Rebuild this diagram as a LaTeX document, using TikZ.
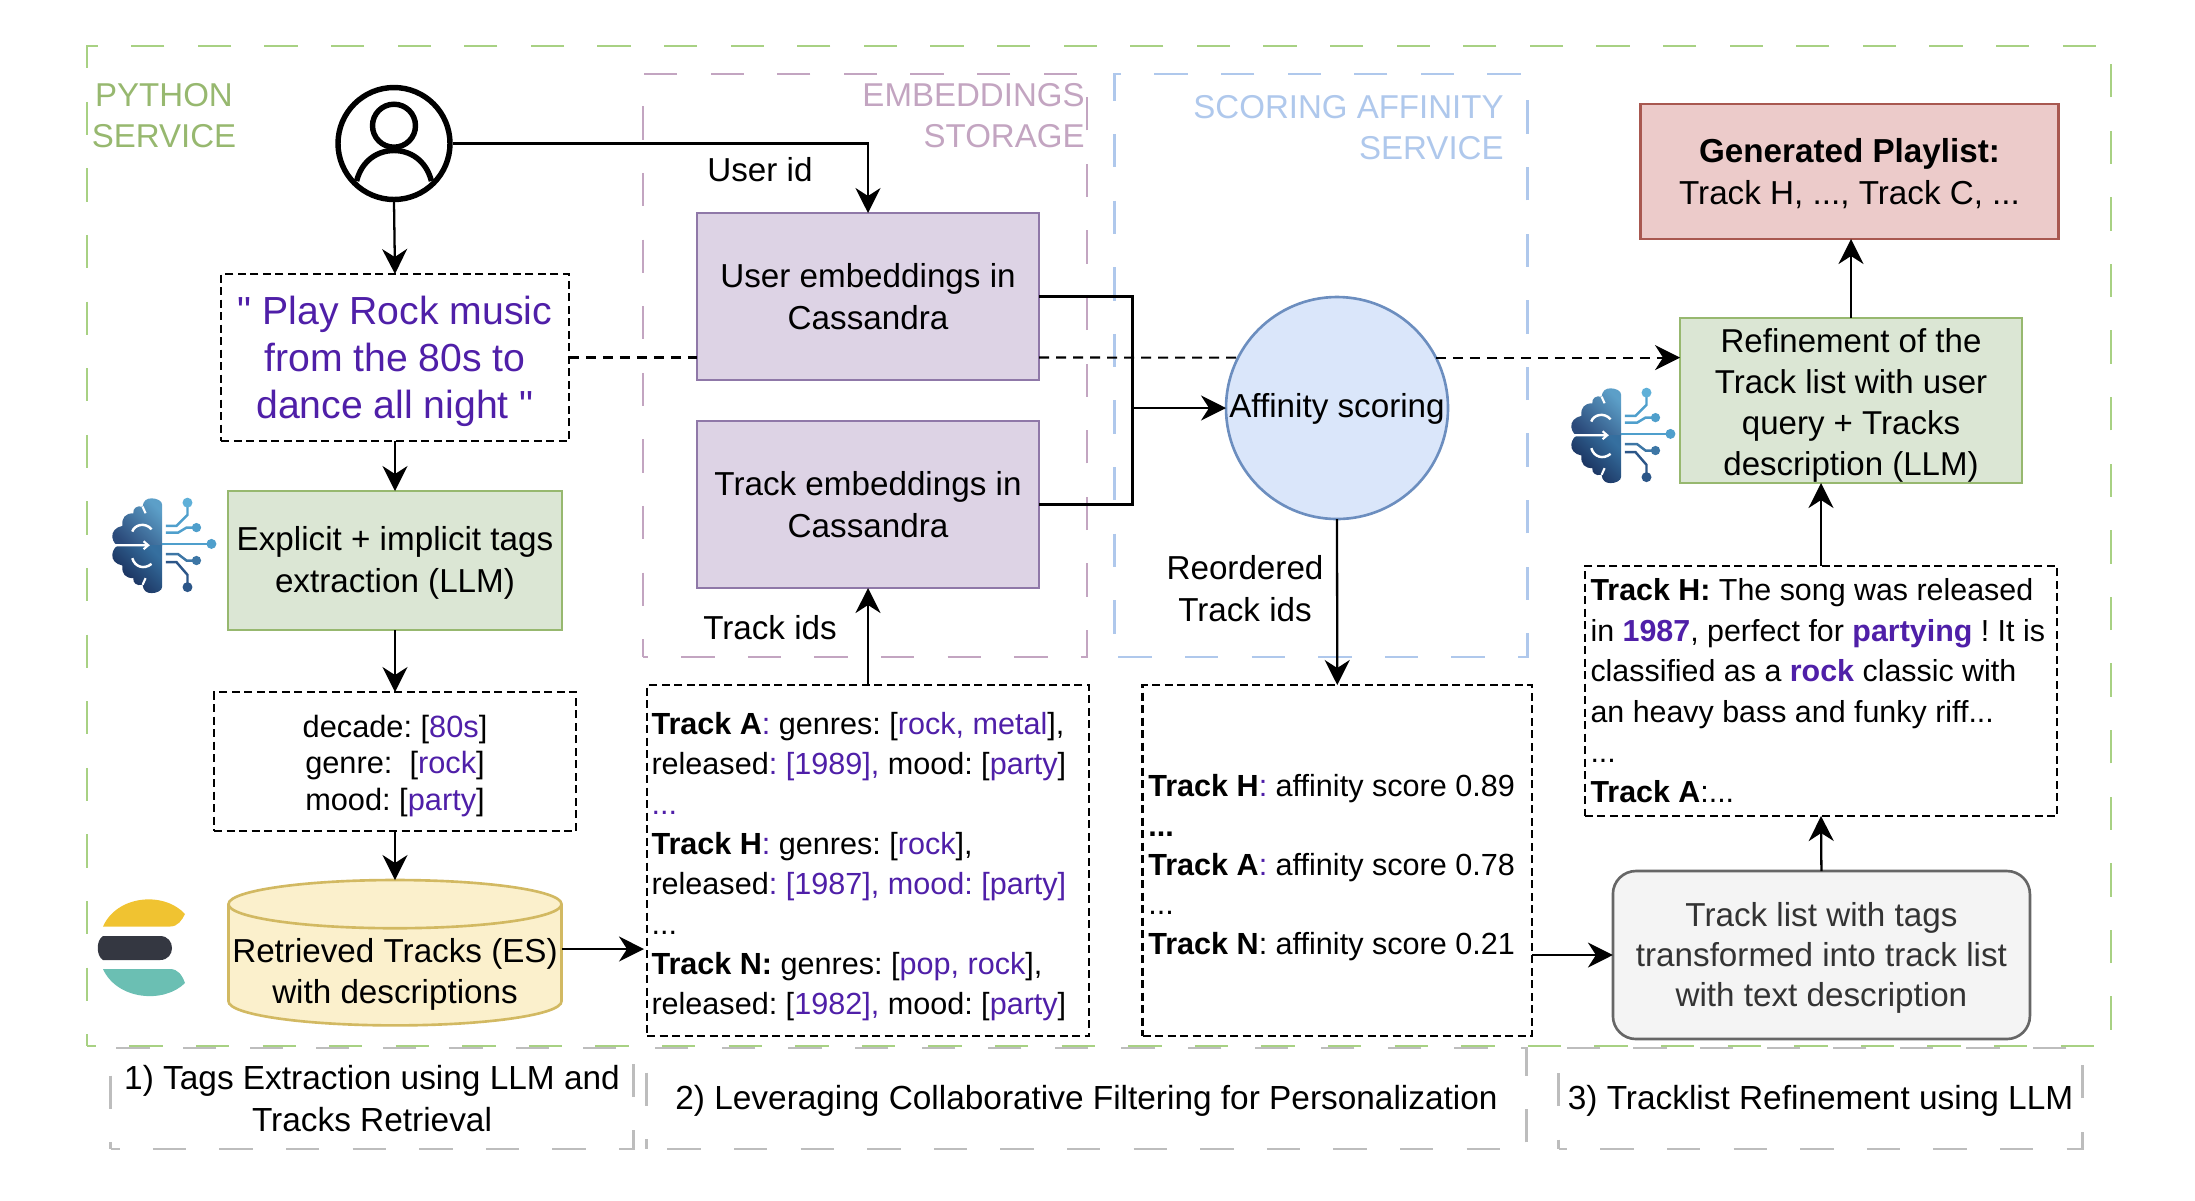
\documentclass[tikz,border=0pt]{standalone}
\usepackage{fontspec}
\setmainfont{Liberation Sans}
\newfontfamily\queryfont{Liberation Sans}
\usetikzlibrary{positioning,arrows.meta,shapes.geometric}

\definecolor{framegreen}{HTML}{A8D183}
\definecolor{labelgreen}{HTML}{97B86F}
\definecolor{framepurple}{HTML}{C3A5C1}
\definecolor{frameblue}{HTML}{AFC8EC}
\definecolor{framegrey}{HTML}{BDBDBD}
\definecolor{tagpurple}{HTML}{4F1FA8}
\definecolor{greenfill}{HTML}{DBE6D4}
\definecolor{purplefill}{HTML}{DDD3E5}
\definecolor{purpleline}{HTML}{8F78A8}
\definecolor{redfill}{HTML}{ECCBCA}
\definecolor{redline}{HTML}{A85850}
\definecolor{bluefill}{HTML}{DAE6FA}
\definecolor{blueline}{HTML}{6C8EBF}
\definecolor{yellowfill}{HTML}{FBF0CC}
\definecolor{yellowline}{HTML}{D2B962}
\definecolor{greyfill}{HTML}{F4F4F4}
\definecolor{greyline}{HTML}{666666}
\definecolor{greytext}{HTML}{333333}
\definecolor{brainlight}{HTML}{5C9FC8}
\definecolor{brainmid}{HTML}{2B4A7A}
\definecolor{braindark}{HTML}{14224E}
\definecolor{brainlow}{HTML}{356F9F}
\definecolor{wireone}{HTML}{5FB0D8}
\definecolor{wiretwo}{HTML}{4F9FCC}
\definecolor{wirethree}{HTML}{3D76A5}
\definecolor{wirefour}{HTML}{2C5688}
\definecolor{esyellow}{HTML}{F0C331}
\definecolor{esdark}{HTML}{343741}
\definecolor{esteal}{HTML}{6BBFB3}
\newcommand{\tagval}[1]{\textcolor{tagpurple}{#1}}

\tikzset{
	bodytext/.style={font=\fontsize{9.45}{11.9}\selectfont, align=center},
	frametext/.style={font=\fontsize{9.4}{11.7}\selectfont},
	conn/.style={-{Stealth[length=2.5mm,width=2.5mm,inset=0.8mm]}, line width=0.65pt},
	plainline/.style={line width=0.65pt},
	dashconn/.style={line width=0.6pt, dash pattern=on 0.1cm off 0.07cm},
	groupframe/.style={draw=#1, line width=0.6pt, dash pattern=on 0.333cm off 0.333cm, inner sep=0pt, outer sep=0pt},
	dashbox/.style={draw, line width=0.65pt, dash pattern=on 0.08cm off 0.045cm, inner sep=0pt, outer sep=0pt},
	solidbox/.style 2 args={draw=#1, fill=#2, line width=0.75pt, inner sep=0pt, outer sep=0pt, bodytext},
	listtext/.style={font=\fontsize{8.7}{11.35}\selectfont, align=flush left},
	textdrop/.style={execute at begin node={\rule{0pt}{#1}}},
	brainicon/.pic={
		\begin{scope}[x=0.00333cm, y=-0.00333cm]
			\shade[left color=brainmid, right color=brainlight, shading angle=135]
			(172,168) -- (172,45) .. controls (172,32) and (155,25) .. (140,25)
			.. controls (125,25) and (115,32) .. (113,50) .. controls (95,46) and (84,55) .. (85,70)
			.. controls (62,70) and (50,82) .. (52,108) .. controls (32,112) and (20,125) .. (22,142)
			.. controls (24,155) and (32,168) .. (45,168) -- cycle;
			\shade[left color=braindark, right color=brainlow, shading angle=135]
			(172,166) -- (172,290) .. controls (172,303) and (155,310) .. (140,310)
			.. controls (125,310) and (115,303) .. (113,285) .. controls (95,289) and (84,280) .. (85,265)
			.. controls (62,265) and (50,253) .. (52,227) .. controls (32,223) and (20,210) .. (22,193)
			.. controls (24,180) and (32,166) .. (45,166) -- cycle;
			\draw[white, line width=0.6pt] (15,166) -- (128,166) (116,154) -- (130,166) -- (116,178);
			\draw[white, line width=0.7pt] (82,125) .. controls (88,105) and (120,95) .. (140,118);
			\draw[white, line width=0.7pt] (82,205) .. controls (90,232) and (118,240) .. (140,222);
			\draw[white, line width=0.6pt] (113,50) -- (122,70) (113,285) -- (122,265);
			\draw[wiretwo, line width=0.7pt] (183,108) -- (215,108) -- (248,75) -- (248,38);
			\fill[wireone] (248,38) circle (15);
			\draw[wiretwo, line width=0.7pt] (183,128) -- (220,128) -- (245,113) -- (275,113);
			\fill[wiretwo] (275,113) circle (14);
			\draw[wiretwo, line width=0.7pt] (172,162) -- (320,162);
			\fill[wiretwo] (320,162) circle (15);
			\draw[wirethree, line width=0.7pt] (183,193) -- (220,193) -- (245,212) -- (275,212);
			\fill[wirethree] (275,212) circle (14);
			\draw[wirefour, line width=0.7pt] (183,217) -- (215,217) -- (248,255) -- (248,292);
			\fill[wirefour] (248,292) circle (15);
		\end{scope}
	}
}

\begin{document}
\frenchspacing
\begin{tikzpicture}
	\useasboundingbox (0,0) rectangle (21.95,-12);
	
	% group frames
	\node[groupframe=framegreen, dash phase=0.243cm, minimum width=20.24cm, minimum height=10cm](python_frame) at (10.99,-5.46){};
	\node[groupframe=framepurple, dash phase=0.284cm, minimum width=4.44cm, minimum height=5.83cm](embed_frame) at (8.65,-3.655){};
	\node[groupframe=frameblue, dash phase=0.627cm, minimum width=4.13cm, minimum height=5.83cm](score_frame) at (13.21,-3.655){};
	\node[groupframe=framegrey, dash phase=0.243cm, minimum width=5.23cm, minimum height=1.01cm, bodytext, font=\fontsize{9.5}{11.9}\selectfont](cap_one) at (3.72,-10.985){1) Tags Extraction using LLM and\\Tracks Retrieval};
	\node[groupframe=framegrey, dash phase=0.457cm, minimum width=8.8cm, minimum height=1.01cm, bodytext, font=\fontsize{9.5}{11.9}\selectfont, textdrop=8.4pt, right=0.13cm of cap_one](cap_two){2) Leveraging Collaborative Filtering for Personalization};
	\node[groupframe=framegrey, dash phase=0.247cm, minimum width=5.24cm, minimum height=1.01cm, bodytext, font=\fontsize{9.5}{11.9}\selectfont, textdrop=8.4pt, right=0.32cm of cap_two](cap_three){3) Tracklist Refinement using LLM};
	
	\node[frametext, text=labelgreen, align=center](python_label) at (1.64,-1.16){PYTHON\\SERVICE};
	\node[frametext, text=framepurple, align=right, anchor=east](embed_label) at (10.97,-1.155){EMBEDDINGS\\STORAGE};
	\node[frametext, text=frameblue, align=right, anchor=east](score_label) at (15.16,-1.275){SCORING AFFINITY\\SERVICE};
	
	% left column
	\node[circle, minimum size=1.12cm, line width=1.55pt, draw, inner sep=0pt](user_icon) at (3.94,-1.435){};
	\draw[line width=1.55pt] (3.94,-1.257) circle (0.215);
	\draw[line width=1.55pt] (3.566,-1.81) .. controls (3.62,-1.6) and (3.78,-1.505) .. (3.94,-1.505)
		.. controls (4.1,-1.505) and (4.26,-1.6) .. (4.314,-1.81);
	
	\node[dashbox, minimum width=3.475cm, minimum height=1.67cm, align=flush center, text=tagpurple, font=\queryfont\fontsize{11.15}{13.4}\selectfont, text width=3.4cm, textdrop=10.2pt](query) at (3.95,-3.575){" Play Rock music\\from the 80s to\\dance all night "};
	\node[solidbox={labelgreen}{greenfill}, align=flush center, text width=3.3cm, textdrop=8pt, minimum width=3.34cm, minimum height=1.39cm, below=0.5cm of query](llm_tags){Explicit + implicit tags\\extraction (LLM)};
	\node[dashbox, minimum width=3.62cm, minimum height=1.39cm, below=0.62cm of llm_tags, align=flush center, font=\fontsize{8.75}{10.3}\selectfont, text width=3.5cm, textdrop=8.9pt](tags){decade: [\tagval{80s}]\\genre:~~[\tagval{rock}]\\mood: [\tagval{party}]};
	\node[solidbox={yellowline}{yellowfill}, cylinder, shape border rotate=90, shape aspect=0.147, cylinder uses custom fill, cylinder body fill=yellowfill, cylinder end fill=yellowfill, font=\fontsize{9.45}{11.6}\selectfont, minimum width=3.33cm, minimum height=1.39cm, below=0.49cm of tags](retrieved){\raisebox{-2.6pt}[\height][\depth]{\parbox{3.28cm}{\centering Retrieved Tracks (ES)\\with descriptions}}};
	\coordinate (retrieved_out) at (5.62,-9.49);
	
	% logos
	\pic at (1.05,-4.9) {brainicon};
	\pic at (15.64,-3.8) {brainicon};
	\fill[esyellow] (1.03,-9.265) .. controls (1.17,-8.95) and (1.64,-8.91) .. (1.85,-9.14) .. controls (1.82,-9.2) and (1.78,-9.265) .. (1.7,-9.265) -- cycle;
	\fill[esdark] (1.03,-9.36) -- (1.6,-9.36) .. controls (1.76,-9.36) and (1.76,-9.6) .. (1.6,-9.6) -- (1.03,-9.6) .. controls (0.96,-9.56) and (0.96,-9.4) .. (1.03,-9.36) -- cycle;
	\fill[esteal] (1.03,-9.69) .. controls (1.17,-10) and (1.64,-10.04) .. (1.85,-9.83) .. controls (1.82,-9.75) and (1.78,-9.69) .. (1.7,-9.69) -- cycle;
	
	% middle column
	\node[solidbox={purpleline}{purplefill}, minimum width=3.42cm, minimum height=1.67cm](user_emb) at (8.68,-2.965){User embeddings in\\Cassandra};
	\node[solidbox={purpleline}{purplefill}, minimum width=3.42cm, minimum height=1.67cm, below=0.41cm of user_emb](track_emb){Track embeddings in\\Cassandra};
	\node[dashbox, listtext, textdrop=9.8pt, minimum width=4.42cm, minimum height=3.51cm, text width=4.33cm](track_box) at (8.68,-8.605){\textbf{Track A}\tagval{:} genres: [\tagval{rock, metal}],\\
		released\tagval{: [1989],} mood: [\tagval{party}]\\
		\tagval{...}\\
		\textbf{Track H}\tagval{:} genres: [\tagval{rock}],\\
		released\tagval{: [1987], mood: [party]}\\
		...\\
		\textbf{Track N:} genres: [\tagval{pop, rock}],\\
		released: [\tagval{1982],} mood: [\tagval{party}]};
	
	\node[circle, draw=blueline, fill=bluefill, line width=0.75pt, minimum size=2.22cm, inner sep=0pt, outer sep=0pt, bodytext, textdrop=7.5pt](affinity) at (13.37,-4.08){Affinity scoring};
	\node[dashbox, listtext, textdrop=10.3pt, font=\fontsize{8.7}{11.2}\selectfont, minimum width=3.895cm, minimum height=3.51cm, text width=3.78cm, right=0.535cm of track_box](score_box){\textbf{Track H}\tagval{:} affinity score 0.89\\
		\textbf{...}\\
		\textbf{Track A}\tagval{:} affinity score 0.78\\
		...\\
		\textbf{Track N}: affinity score 0.21};
	
	% right column
	\node[solidbox={redline}{redfill}, align=flush center, text width=4.1cm, textdrop=8pt, minimum width=4.18cm, minimum height=1.35cm](playlist) at (18.495,-1.715){\textbf{Generated Playlist:}\\Track H, ..., Track C, ...};
	\node[solidbox={labelgreen}{greenfill}, align=flush center, text width=3.38cm, textdrop=9.6pt, font=\fontsize{9.4}{11.6}\selectfont, minimum width=3.42cm, minimum height=1.65cm](refine) at (18.51,-4.005){Refinement of the\\Track list with user\\query + Tracks\\description (LLM)};
	\node[dashbox, font=\fontsize{8.65}{11.5}\selectfont, align=flush left, minimum width=4.725cm, minimum height=2.5cm, text width=4.61cm](desc_box) at (18.21,-6.91){\textbf{Track H:} The song was released\\
		in \textbf{\tagval{1987}}, perfect for \textbf{\tagval{partying}} ! It is\\
		classified as a \textbf{\tagval{rock}} classic with\\
		an heavy bass and funky riff...\\
		...\\
		\textbf{Track A}:...};
	\node[draw=greyline, fill=greyfill, text=greytext, rounded corners=0.23cm, line width=0.75pt, minimum width=4.17cm, minimum height=1.68cm, inner sep=0pt, outer sep=0pt, bodytext, align=flush center, font=\fontsize{9.45}{11.4}\selectfont, text width=4.1cm, textdrop=8.4pt](track_list) at (18.214,-9.55){Track list with tags\\transformed into track list\\with text description};
	
	\node[bodytext](user_id) at (7.6,-1.7){User id};
	\node[bodytext](track_ids) at (7.7,-6.28){Track ids};
	\node[bodytext](reordered) at (12.45,-5.89){Reordered\\Track ids};
	
	\coordinate (bus_joint) at (11.324,-4.08);
	
	\draw[conn](user_icon.east) -| (user_emb.north);
	\draw[conn](user_icon.south) -- (query.north);
	\draw[conn](query.south) -- (llm_tags.north);
	\draw[conn](llm_tags.south) -- (tags.north);
	\draw[conn](tags.south) -- (retrieved.north);
	\draw[conn, shorten >=0.03cm](retrieved_out) -- (track_box.west |- retrieved_out);
	\draw[conn](track_box.north) -- (track_emb.south);
	\draw[plainline](user_emb.east) -| (bus_joint);
	\draw[plainline](track_emb.east) -| (bus_joint);
	\draw[conn](bus_joint) -- (affinity.west);
	\draw[conn](affinity.south) -- (score_box.north);
	\draw[conn](score_box.east |- track_list.west) -- (track_list.west);
	\draw[conn](track_list.north) -- (desc_box.south);
	\draw[conn](desc_box.north) -- (refine.south -| desc_box.north);
	\draw[conn](refine.north) -- (playlist.south -| refine.north);
	
	\draw[dashconn](query.east) -- (user_emb.west |- query.east);
	\draw[dashconn](user_emb.east |- query.east) -- (affinity.153);
	\draw[dashconn,-{Stealth[length=2.5mm,width=2.5mm,inset=0.8mm]}](affinity.27) -- (refine.west |- affinity.27);
\end{tikzpicture}
\end{document}
